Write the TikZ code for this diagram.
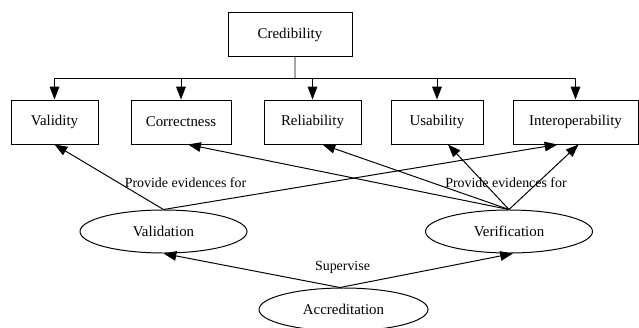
\documentclass[tikz,border=0pt]{standalone}
\usepackage{fontspec}
\setmainfont{Liberation Serif}
\usetikzlibrary{positioning,arrows.meta,shapes.geometric}

\begin{document}
\begin{tikzpicture}[>={Triangle[length=3.2mm,width=2.4mm]}, line width=0.7pt, every node/.style={font=\fontsize{10.6}{12}\selectfont}]
\tikzset{
  attrbox/.style={
    draw,
    rectangle,
    minimum height=1.1cm,
    inner sep=0pt,
  },
  activity/.style={
    draw,
    ellipse,
    minimum width=4.175cm,
    minimum height=1.075cm,
    inner sep=0pt,
  },
  edgelabel/.style={font=\fontsize{9.9}{11}\selectfont, inner sep=0pt}
}
\useasboundingbox (0,0) rectangle (15.975,-8.175);
\node[attrbox, minimum width=3.1cm] (cred) at (7.25,-0.8625) {Credibility};
\node[attrbox, minimum width=2.175cm] (validity) at (1.3625,-3.05) {Validity};
\node[attrbox, minimum width=2.5cm] (correct) at (4.525,-3.05) {Correctness};
\node[attrbox, minimum width=2.425cm] (reliab) at (7.8125,-3.05) {Reliability};
\node[attrbox, minimum width=2.3cm] (usab) at (10.925,-3.05) {Usability};
\node[attrbox, minimum width=3.125cm] (interop) at (14.3875,-3.05) {Interoperability};
\node[activity] (valid) at (4.0875,-5.7875) {Validation};
\node[activity] (verif) at (12.725,-5.7875) {Verification};
\node[activity, minimum width=4.225cm] (accred) at (8.5875,-7.7375) {Accreditation};
% credibility splits into its attributes
\coordinate (bus) at (7.375,-1.95);
\draw ([xshift=1.25mm]cred.south) -- (bus);
\foreach \n in {validity,correct,reliab,usab,interop}
  \draw[->] (bus) -| (\n);
% evidences
\draw[->] (valid.north) -- (validity.south);
\draw[->] (valid.north) -- ([xshift=-4.5mm]interop.south);
\draw[->] (verif.north) -- ([xshift=1.75mm]correct.south);
\draw[->] (verif.north) -- ([xshift=2.5mm]reliab.south);
\draw[->] (verif.north) -- ([xshift=2.75mm]usab.south);
\draw[->] (verif.north) -- ([xshift=0.75mm]interop.south);
\node[edgelabel] (evidL) at (4.6375,-4.575) {Provide evidences for};
\node[edgelabel] (evidR) at (12.65,-4.575) {Provide evidences for};
% supervision
\draw[->] ([xshift=-0.9mm]accred.north) -- (valid.south);
\draw[->] ([xshift=-0.9mm]accred.north) -- ([xshift=1mm]verif.south);
\node[edgelabel] (superv) at (8.5625,-6.675) {Supervise};
\end{tikzpicture}
\end{document}
